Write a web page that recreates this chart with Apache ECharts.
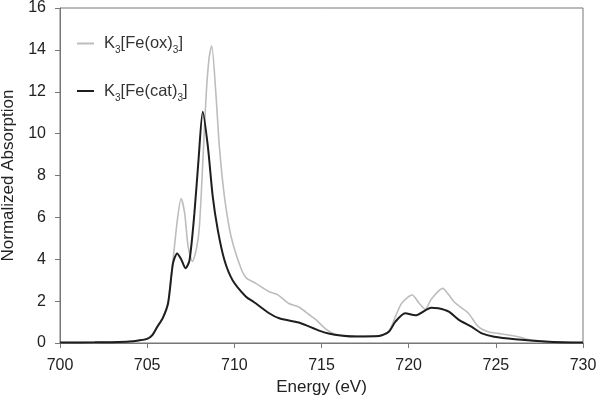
<!DOCTYPE html>
<html>
<head>
<meta charset="utf-8">
<script src="https://cdn.jsdelivr.net/npm/echarts@6/dist/echarts.min.js"></script>
<style>
  html, body { margin: 0; padding: 0; background: #fff; }
  #chart { width: 600px; height: 407px; }
</style>
</head>
<body>
<div id="chart"></div>
<script>
// K3[Fe(ox)3] - gray trace
const energyOx = [700, 702, 703, 704, 704.5, 705, 705.3, 705.6, 705.9, 706.2, 706.5, 706.75, 706.95, 707.15, 707.35, 707.6,
    707.85, 708.0, 708.19, 708.38, 708.55, 708.7, 708.95, 709.14, 709.43, 709.81, 710.38, 710.7, 711.24, 711.6, 712.0, 712.5,
    713.1, 713.7, 714.3, 714.7, 715.2, 715.6, 716.0, 717.0, 718.0, 718.5, 718.9, 719.24, 719.6, 720.2, 720.6, 720.95,
    721.3, 721.95, 722.3, 722.6, 723.0, 723.43, 724.0, 724.6, 725.14, 726.3, 727.0, 728.0, 729.0, 730.0]
const valueOx = [0.02, 0.03, 0.04, 0.07, 0.12, 0.22, 0.4, 0.8, 1.2, 1.95, 4.1, 6.0, 6.9, 6.2, 4.6, 3.9,
    4.6, 5.6, 8.6, 11.8, 13.6, 14.2, 11.8, 9.4, 7.0, 5.1, 3.57, 3.1, 2.85, 2.65, 2.45, 2.3,
    1.9, 1.72, 1.35, 1.1, 0.7, 0.48, 0.38, 0.33, 0.33, 0.38, 0.6, 1.26, 1.9, 2.29, 1.9, 1.61,
    2.1, 2.61, 2.3, 1.97, 1.7, 1.42, 0.78, 0.52, 0.46, 0.3, 0.14, 0.07, 0.03, 0.02]

// K3[Fe(cat)3] - black trace
const energyCat = [700, 702, 703, 704, 704.5, 705, 705.3, 705.6, 705.9, 706.2, 706.48, 706.72, 706.95, 707.2, 707.43, 707.71,
    707.95, 708.19, 708.48, 708.76, 709.05, 709.43, 709.9, 710.67, 711.1, 712.0, 712.57, 713.7, 714.86, 715.4,
    716.2, 717.0, 718.3, 718.86, 719.24, 719.8, 720.38, 721.3, 721.7, 722.3, 722.86, 723.6, 724.2, 724.9, 726.1, 728.0, 730.0]
const valueCat = [0.02, 0.03, 0.04, 0.07, 0.12, 0.2, 0.38, 0.8, 1.2, 1.9, 3.8, 4.28, 4.0, 3.57, 3.96, 6.2,
    8.8, 11.05, 9.4, 7.0, 5.4, 3.96, 3.0, 2.21, 1.97, 1.42, 1.18, 0.98, 0.59, 0.45,
    0.35, 0.31, 0.33, 0.54, 1.02, 1.42, 1.32, 1.68, 1.66, 1.5, 1.12, 0.78, 0.46, 0.3, 0.18, 0.06, 0.02]

const xTicks = {min: 700, max: 730, interval: 5}
const yTicks = {min: 0, max: 16, interval: 2}

const font = 'Liberation Sans'
const pairs = (xs, ys) => xs.map((x, i) => [x, ys[i]])

const chart = echarts.init(document.getElementById('chart'), null, {renderer: 'canvas'})
chart.setOption({
    animation: false,
    textStyle: {fontFamily: font},
    grid: {
        left: 60, right: 17, top: 8, bottom: 64,
        outerBoundsMode: 'none',
        containLabel: false,
        show: true, borderColor: '#777', borderWidth: 1
    },
    legend: {
        orient: 'vertical',
        left: 72, top: 30,
        itemGap: 27,
        itemWidth: 17, itemHeight: 2,
        icon: 'rect',
        data: ['ox', 'cat'],
        formatter: name => '{a|K}{b|3}{a|[Fe(' + name + ')}{b|3}{a|]}',
        textStyle: {
            padding: [0, 0, 0, 5],
            rich: {
                a: {fontSize: 16.5, lineHeight: 24, color: '#333', fontFamily: font},
                b: {fontSize: 10, lineHeight: 11, verticalAlign: 'bottom', color: '#333', fontFamily: font}
            }
        }
    },
    xAxis: {
        type: 'value',
        min: xTicks.min, max: xTicks.max, interval: xTicks.interval,
        name: 'Energy (eV)',
        nameLocation: 'middle',
        nameGap: 36,
        nameTextStyle: {fontSize: 17, color: '#222', fontFamily: font},
        axisLine: {lineStyle: {color: '#777', width: 1}},
        axisTick: {show: true, inside: false, length: 5, lineStyle: {color: '#777'}},
        axisLabel: {fontSize: 16, color: '#222', margin: 15, fontFamily: font},
        splitLine: {show: false}
    },
    yAxis: {
        type: 'value',
        min: yTicks.min, max: yTicks.max, interval: yTicks.interval,
        name: 'Normalized Absorption',
        nameLocation: 'middle',
        nameGap: 40,
        nameTextStyle: {fontSize: 17, color: '#222', fontFamily: font},
        axisLine: {show: true, lineStyle: {color: '#777', width: 1}},
        axisTick: {show: true, inside: false, length: 5, lineStyle: {color: '#777'}},
        axisLabel: {fontSize: 16, color: '#222', margin: 14, fontFamily: font},
        splitLine: {show: false}
    },
    series: [{
        name: 'ox',
        type: 'line',
        data: pairs(energyOx, valueOx),
        showSymbol: false,
        smooth: 0.25,
        lineStyle: {color: '#bdbdbd', width: 1.6},
        itemStyle: {color: '#bdbdbd'}
    }, {
        name: 'cat',
        type: 'line',
        data: pairs(energyCat, valueCat),
        showSymbol: false,
        smooth: 0.25,
        lineStyle: {color: '#1e1e1e', width: 2},
        itemStyle: {color: '#1e1e1e'}
    }]
})
</script>
</body>
</html>
